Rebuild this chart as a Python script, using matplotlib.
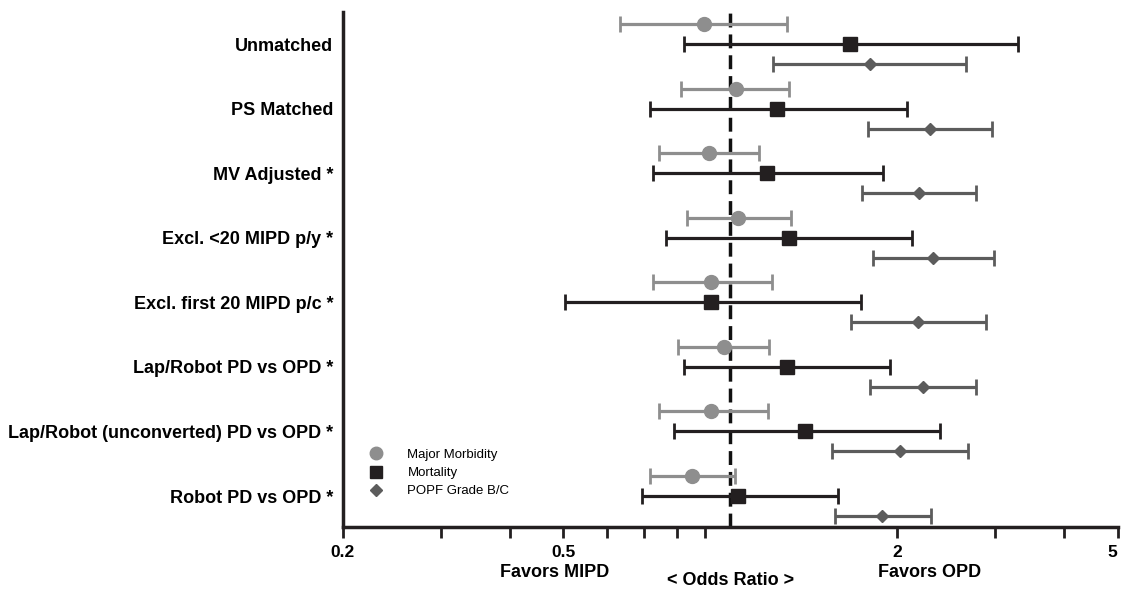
import matplotlib
matplotlib.use("Agg")
import matplotlib.pyplot as plt
from matplotlib.lines import Line2D
from matplotlib.ticker import FixedLocator, NullFormatter
import numpy as np

plt.rcParams['font.family'] = ['Liberation Sans', 'DejaVu Sans']
NARROW = ['Liberation Sans Narrow', 'Liberation Sans', 'DejaVu Sans']

# Data: odds ratios with confidence intervals
categories = ["Unmatched", "PS Matched", "MV Adjusted *", "Excl. <20 MIPD p/y *",
              "Excl. first 20 MIPD p/c *", "Lap/Robot PD vs OPD *",
              "Lap/Robot (unconverted) PD vs OPD *", "Robot PD vs OPD *"]

morb_or = [0.896, 1.025, 0.915, 1.034, 0.924, 0.975, 0.922, 0.854]
morb_lo = [0.632, 0.814, 0.743, 0.835, 0.725, 0.806, 0.743, 0.716]
morb_hi = [1.267, 1.278, 1.126, 1.288, 1.188, 1.174, 1.171, 1.019]

mort_or = [1.647, 1.216, 1.166, 1.278, 0.924, 1.267, 1.363, 1.034]
mort_lo = [0.824, 0.716, 0.726, 0.765, 0.503, 0.824, 0.791, 0.694]
mort_hi = [3.30, 2.083, 1.889, 2.127, 1.724, 1.94, 2.388, 1.563]

popf_or = [1.786, 2.296, 2.194, 2.325, 2.184, 2.226, 2.027, 1.88]
popf_lo = [1.196, 1.775, 1.731, 1.808, 1.653, 1.789, 1.528, 1.547]
popf_hi = [2.667, 2.97, 2.78, 2.996, 2.898, 2.774, 2.685, 2.306]

series = [
    ("Major Morbidity", morb_or, morb_lo, morb_hi, "#8e8e8e", "o", 10, -0.31),
    ("Mortality", mort_or, mort_lo, mort_hi, "#231f20", "s", 9.5, 0.0),
    ("POPF Grade B/C", popf_or, popf_lo, popf_hi, "#5c5c5c", "D", 6.5, 0.31),
]

fig = plt.figure(figsize=(11.22, 5.89), dpi=100)
ax = fig.add_axes([0.3057, 0.1053, 0.6903, 0.8743])

y = np.arange(len(categories))
for name, est, lo, hi, col, mk, ms, off in series:
    est = np.array(est)
    err = [est - np.array(lo), np.array(hi) - est]
    ax.errorbar(est, y + off, xerr=err, fmt=mk, color=col, ecolor=col,
                ms=ms, elinewidth=2.3, capsize=5.5, capthick=2, zorder=3)

ax.axvline(1, color="#111111", lw=2.5, ls=(0, (4, 2)), zorder=2)

ax.set_xscale("log")
ax.set_xlim(0.2, 5)
ax.set_ylim(7.48, -0.5)
ax.xaxis.set_major_locator(FixedLocator([0.2, 0.5, 2, 5]))
ax.xaxis.set_minor_locator(FixedLocator([0.3, 0.4, 0.6, 0.7, 0.8, 0.9, 3, 4]))
ax.xaxis.set_minor_formatter(NullFormatter())
ax.set_xticklabels(["0.2", "0.5", "2", "5"], fontsize=12.5, fontweight="bold",
                   family=NARROW)
ax.get_xticklabels()[-1].set_horizontalalignment("right")
ax.tick_params(axis="x", which="both", length=8, width=2, color="#231f20", pad=5)
ax.set_yticks(y)
ax.set_yticklabels(categories, fontsize=13, fontweight="bold")
ax.tick_params(axis="y", length=0, pad=7)

for s in ["top", "right"]:
    ax.spines[s].set_visible(False)
for s in ["left", "bottom"]:
    ax.spines[s].set_linewidth(2.5)
    ax.spines[s].set_color("#231f20")

xt = ax.get_xaxis_transform()
ax.text(0.482, -0.089, "Favors MIPD", transform=xt, ha="center", va="center",
        fontsize=13, fontweight="bold", family=NARROW)
ax.text(1.0, -0.103, "< Odds Ratio >", transform=xt, ha="center", va="center",
        fontsize=13, fontweight="bold", family=NARROW)
ax.text(2.29, -0.089, "Favors OPD", transform=xt, ha="center", va="center",
        fontsize=13, fontweight="bold", family=NARROW)

handles = [Line2D([], [], ls="none", marker=mk, color=col, ms=ms * 0.9)
           for name, _, _, _, col, mk, ms, _ in series]
ax.legend(handles, [s[0] for s in series], loc="upper left",
          bbox_to_anchor=(0.01, 0.175), frameon=False,
          prop={"family": NARROW, "size": 9.5},
          handletextpad=1.4, labelspacing=0.45)

fig.savefig("out.png", dpi=100)
